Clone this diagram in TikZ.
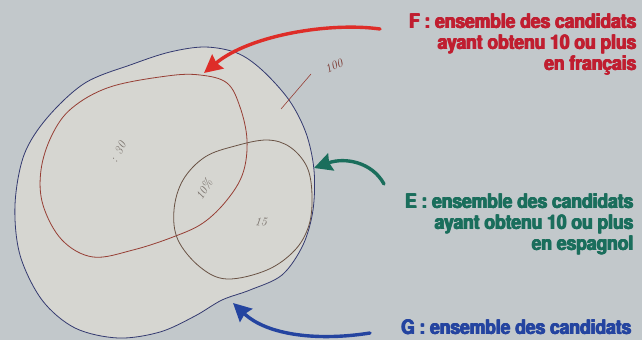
\documentclass[tikz,border=0pt]{standalone}
\usepackage{fontspec}
\newfontfamily\labelfont{texgyreheros-bold}[Extension=.otf, FakeStretch=0.87]
\usetikzlibrary{arrows.meta}

% heavier lettering: the line is set several times, nudged right and up
\newcommand\heavyline[1]{\leavevmode
  \rlap{\hskip1.2pt#1}\rlap{\hskip0.6pt#1}%
  \rlap{\raisebox{0.5pt}{\hskip0.6pt#1}}#1}

\definecolor{bgcol}{RGB}{194,200,203}
\definecolor{gfill}{RGB}{214,214,209}
\definecolor{gline}{RGB}{52,58,112}
\definecolor{fline}{RGB}{150,62,52}
\definecolor{eline}{RGB}{105,82,68}
\definecolor{fred}{RGB}{192,30,48}
\definecolor{fredarrow}{RGB}{222,45,40}
\definecolor{eteal}{RGB}{26,110,92}
\definecolor{gblue}{RGB}{36,68,160}
\definecolor{pencil}{RGB}{118,110,104}

\tikzset{
  setline/.style={line width=0.8pt},
  lbl/.style={font=\labelfont\fontsize{20}{21}\selectfont, align=right, inner sep=0pt},
  hand/.style={font=\itshape\fontsize{12}{12}\selectfont, text=pencil, inner sep=0pt},
  callout/.style={line width=3.4pt, line cap=round,
    -{Stealth[length=18pt, width=18pt, inset=2pt]}},
}

\begin{document}
\begin{tikzpicture}[x=1pt, y=-1pt]
\useasboundingbox (0,0) rectangle (642,340);
\fill[bgcol] (0,0) rectangle (642,340);

% G : all candidates
\draw[setline, gline, fill=gfill] plot[smooth cycle, tension=0.55] coordinates {
  (205,47) (237,53) (262,70) (289,100) (306,133) (314,170) (313,210)
  (303,245) (282,275) (250,290) (222,300) (195,316) (160,332) (118,338)
  (75,328) (42,300) (20,255) (15,205) (24,155) (47,118) (85,83)
  (133,64) (170,52)};

% F : 10 or more in French
\draw[setline, fline] plot[smooth cycle, tension=0.6] coordinates {
  (167,76) (200,75) (227,83) (240,107) (247,140) (243,173) (227,200)
  (203,223) (173,237) (133,250) (93,257) (62,240) (43,205) (41,170)
  (52,135) (72,108) (110,87)};

% E : 10 or more in Spanish
\draw[setline, eline] plot[smooth cycle, tension=0.6] coordinates {
  (267,140) (290,147) (307,167) (312,195) (309,225) (295,250) (267,270)
  (227,279) (200,267) (178,240) (174,210) (183,180) (205,157) (235,146)};

% pencil notes
\draw[line width=0.6pt, fline] (281,109) -- (311,74);
\node[hand, rotate=25, text=fline!80!black] (total) at (334,66) {100};
\node[hand, rotate=62] (onlyF) at (118,152) {: 30};
\node[hand, rotate=60] (both) at (204,189) {10\%};
\node[hand, rotate=-5] (onlyE) at (261,222) {15};

% labels
\node[lbl, text=fred, anchor=north east] (labF) at (636,13)
  {\heavyline{F : ensemble des candidats}\\\heavyline{ayant obtenu 10 ou plus}\\\heavyline{en français}};
\node[lbl, text=eteal, anchor=north east] (labE) at (633,193)
  {\heavyline{E : ensemble des candidats}\\\heavyline{ayant obtenu 10 ou plus}\\\heavyline{en espagnol}};
\node[lbl, text=gblue, anchor=north east] (labG) at (631,319)
  {\heavyline{G : ensemble des candidats}};

% callout arrows
\coordinate (tailF) at (380,29);
\coordinate (tipF) at (204,73);
\coordinate (tailE) at (384,184);
\coordinate (tipE) at (314,168);
\coordinate (tailG) at (370,333);
\coordinate (tipG) at (233,303);

\draw[callout, fredarrow] (tailF) .. controls (330,22) and (250,35) .. (tipF);
\draw[callout, eteal] (tailE) .. controls (372,162) and (345,157) .. (tipE);
\draw[callout, gblue] (tailG) .. controls (320,341) and (268,336) .. (tipG);
\end{tikzpicture}
\end{document}
